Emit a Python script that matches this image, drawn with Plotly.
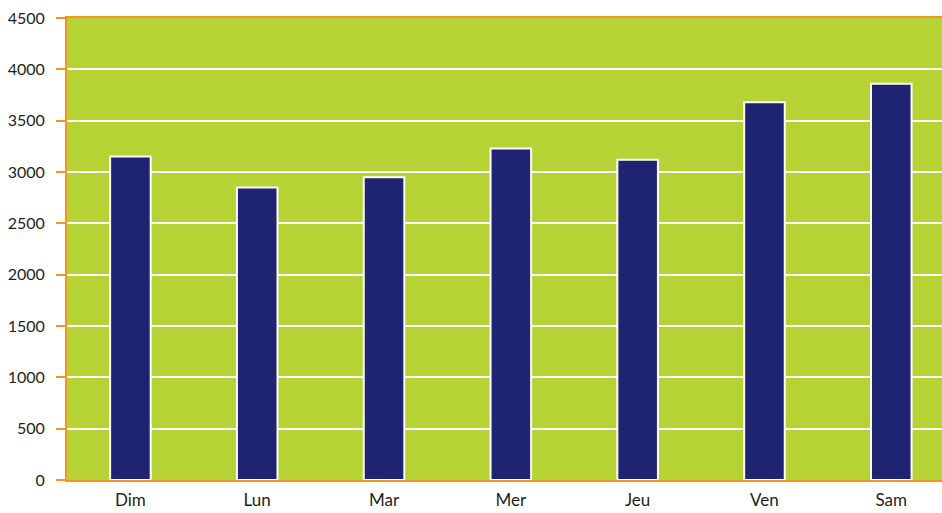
import plotly.graph_objects as go

days = ["Dim", "Lun", "Mar", "Mer", "Jeu", "Ven", "Sam"]
values = [3150, 2850, 2950, 3230, 3120, 3680, 3860]
y_ticks = [0, 500, 1000, 1500, 2000, 2500, 3000, 3500, 4000, 4500]

fig = go.Figure(go.Bar(
    x=list(range(len(days))), y=values,
    width=0.32,
    marker=dict(color="#1E2471", line=dict(color="white", width=2)),
))

fig.update_layout(
    width=942, height=513,
    margin=dict(l=67, r=0, t=18, b=33),
    paper_bgcolor="white", plot_bgcolor="#B5D334",
    showlegend=False,
    font=dict(family="Lato, Open Sans, sans-serif", size=17, color="#231F20"),
)
fig.update_xaxes(
    range=[-0.5, 6.4], tickvals=list(range(len(days))), ticktext=days,
    showgrid=False, showline=True, linecolor="#F7941D", linewidth=2,
    mirror=True, ticks="", layer="below traces", zeroline=False,
    ticklabelstandoff=4,
)
fig.update_yaxes(
    range=[0, 4500], tickvals=y_ticks, tickfont=dict(size=16),
    showgrid=True, gridcolor="white", gridwidth=2,
    showline=True, linecolor="#F7941D", linewidth=2,
    ticks="outside", ticklen=9, tickcolor="#F7941D", tickwidth=2,
    zeroline=False, layer="below traces", ticklabelstandoff=8,
)

fig.write_html(
    "out.html",
    config={"displayModeBar": False},
    post_script="document.body.style.margin='0';document.body.style.overflow='hidden';",
)
